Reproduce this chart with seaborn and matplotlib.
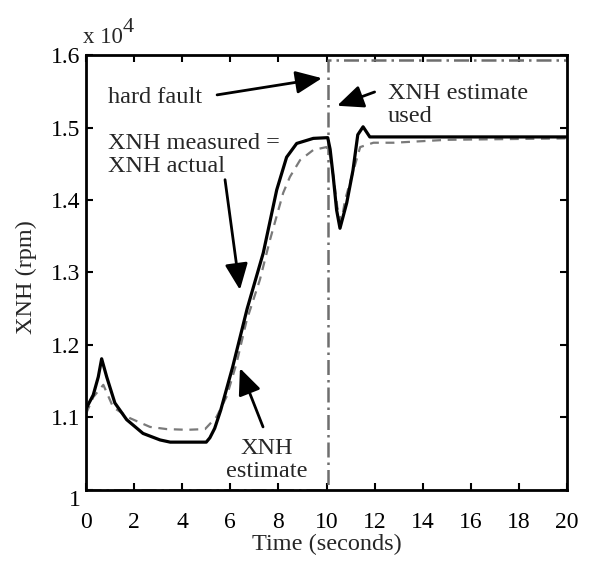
import matplotlib
matplotlib.use("Agg")
import matplotlib.pyplot as plt
import seaborn as sns
import numpy as np
import pandas as pd

# ---- data ----
t_actual = [0.0, 0.3, 0.51, 0.65, 0.86, 1.2, 1.69, 2.37, 3.08, 3.5, 5.0, 5.15, 5.35,
            5.6, 6.1, 6.7, 7.37, 7.93, 8.34, 8.76, 9.45, 10.05, 10.15, 10.28, 10.42,
            10.56, 10.84, 11.1, 11.3, 11.52, 11.8, 20.0]
xnh_actual = [1.112, 1.131, 1.156, 1.181, 1.156, 1.12, 1.097, 1.078, 1.069, 1.066, 1.066,
              1.072, 1.085, 1.11, 1.17, 1.25, 1.327, 1.414, 1.459, 1.478, 1.485, 1.486,
              1.47, 1.432, 1.386, 1.361, 1.396, 1.441, 1.49, 1.501, 1.487, 1.487]

t_est = [0.0, 0.3, 0.72, 1.13, 1.83, 2.66, 3.35, 4.2, 4.95, 5.43, 5.85, 6.26, 6.68,
         7.23, 7.65, 8.2, 8.48, 8.9, 9.45, 10.0, 10.15, 10.3, 10.45, 10.62, 10.77,
         11.2, 11.4, 11.95, 12.8, 15.0, 20.0]
xnh_est = [1.105, 1.128, 1.145, 1.114, 1.099, 1.087, 1.084, 1.083, 1.084, 1.101, 1.129,
           1.175, 1.234, 1.29, 1.345, 1.41, 1.432, 1.455, 1.469, 1.473, 1.46, 1.43, 1.39,
           1.37, 1.40, 1.45, 1.473, 1.479, 1.479, 1.483, 1.485]

t_fault = [0.0, 10.05, 10.05, 20.0]
xnh_fault = [1.0, 1.0, 1.593, 1.593]

yticks = [1.0, 1.1, 1.2, 1.3, 1.4, 1.5, 1.6]
ytick_labels = ["1", "1.1", "1.2", "1.3", "1.4", "1.5", "1.6"]
xticks = list(range(0, 21, 2))

sns.set_theme(style="ticks")
plt.rcParams["font.family"] = ["Liberation Serif", "DejaVu Serif"]

fig = plt.figure(figsize=(5.99, 5.63), dpi=100)
ax = fig.add_axes([0.1436, 0.1297, 0.8030, 0.7726])

df_a = pd.DataFrame({"t": t_actual, "y": xnh_actual})
df_e = pd.DataFrame({"t": t_est, "y": xnh_est})
df_f = pd.DataFrame({"t": t_fault, "y": xnh_fault})

sns.lineplot(data=df_f, x="t", y="y", ax=ax, estimator=None, sort=False,
             color="#6e6e6e", linewidth=1.8, linestyle=(0, (6, 2, 1, 2)))
sns.lineplot(data=df_e, x="t", y="y", ax=ax, estimator=None, sort=False,
             color="#7a7a7a", linewidth=1.6, linestyle=(0, (4, 3)))
sns.lineplot(data=df_a, x="t", y="y", ax=ax, estimator=None, sort=False,
             color="black", linewidth=2.3)

ax.set_xlim(0, 20)
ax.set_ylim(1.0, 1.6)
ax.set_xticks(xticks)
ax.set_xticklabels([str(v) for v in xticks])
ax.set_yticks(yticks)
ax.set_yticklabels(ytick_labels)
for lab in ax.get_yticklabels():
    if lab.get_text() == "1":
        lab.set_va("top")

ax.tick_params(direction="in", length=5, width=1.5, top=True, right=True,
               labelsize=17, colors="black")
ax.tick_params(axis="x", pad=16)
ax.tick_params(axis="y", pad=4)
for s in ax.spines.values():
    s.set_linewidth(2)
    s.set_color("black")

ax.set_xlabel("Time (seconds)", fontsize=17.5)
ax.set_ylabel("XNH (rpm)", fontsize=17.5)
ax.xaxis.set_label_coords(0.5, -0.102)
ax.xaxis.label.set_va("top")
ax.yaxis.set_label_coords(-0.102, 0.49)

ax.text(-0.125, 1.6166, "x 10", fontsize=16.5, ha="left", va="baseline")
ax.text(1.54, 1.6317, "4", fontsize=16, ha="left", va="baseline")

fs = 17.5
ls = 1.1
ax.text(0.91, 1.542, "hard fault", fontsize=fs, ha="left", va="center")
ax.text(0.91, 1.462, "XNH measured =\nXNH actual", fontsize=fs, ha="left", va="center",
        linespacing=ls)
ax.text(12.56, 1.531, "XNH estimate\nused", fontsize=fs, ha="left", va="center",
        linespacing=ls)
ax.text(7.53, 1.041, "XNH\nestimate", fontsize=fs, ha="center", va="center",
        multialignment="center", linespacing=ls)

ap = dict(arrowstyle="-|>,head_length=0.8,head_width=0.35", lw=2, color="black",
          mutation_scale=20, shrinkA=0, shrinkB=0)
ax.annotate("", xy=(9.81, 1.568), xytext=(5.45, 1.545), arrowprops=ap)
ax.annotate("", xy=(10.44, 1.53), xytext=(12.0, 1.549), arrowprops=ap)
ax.annotate("", xy=(6.4, 1.276), xytext=(5.78, 1.428), arrowprops=ap)
ax.annotate("", xy=(6.4, 1.168), xytext=(7.36, 1.087), arrowprops=ap)

fig.savefig("out.png", dpi=100)
